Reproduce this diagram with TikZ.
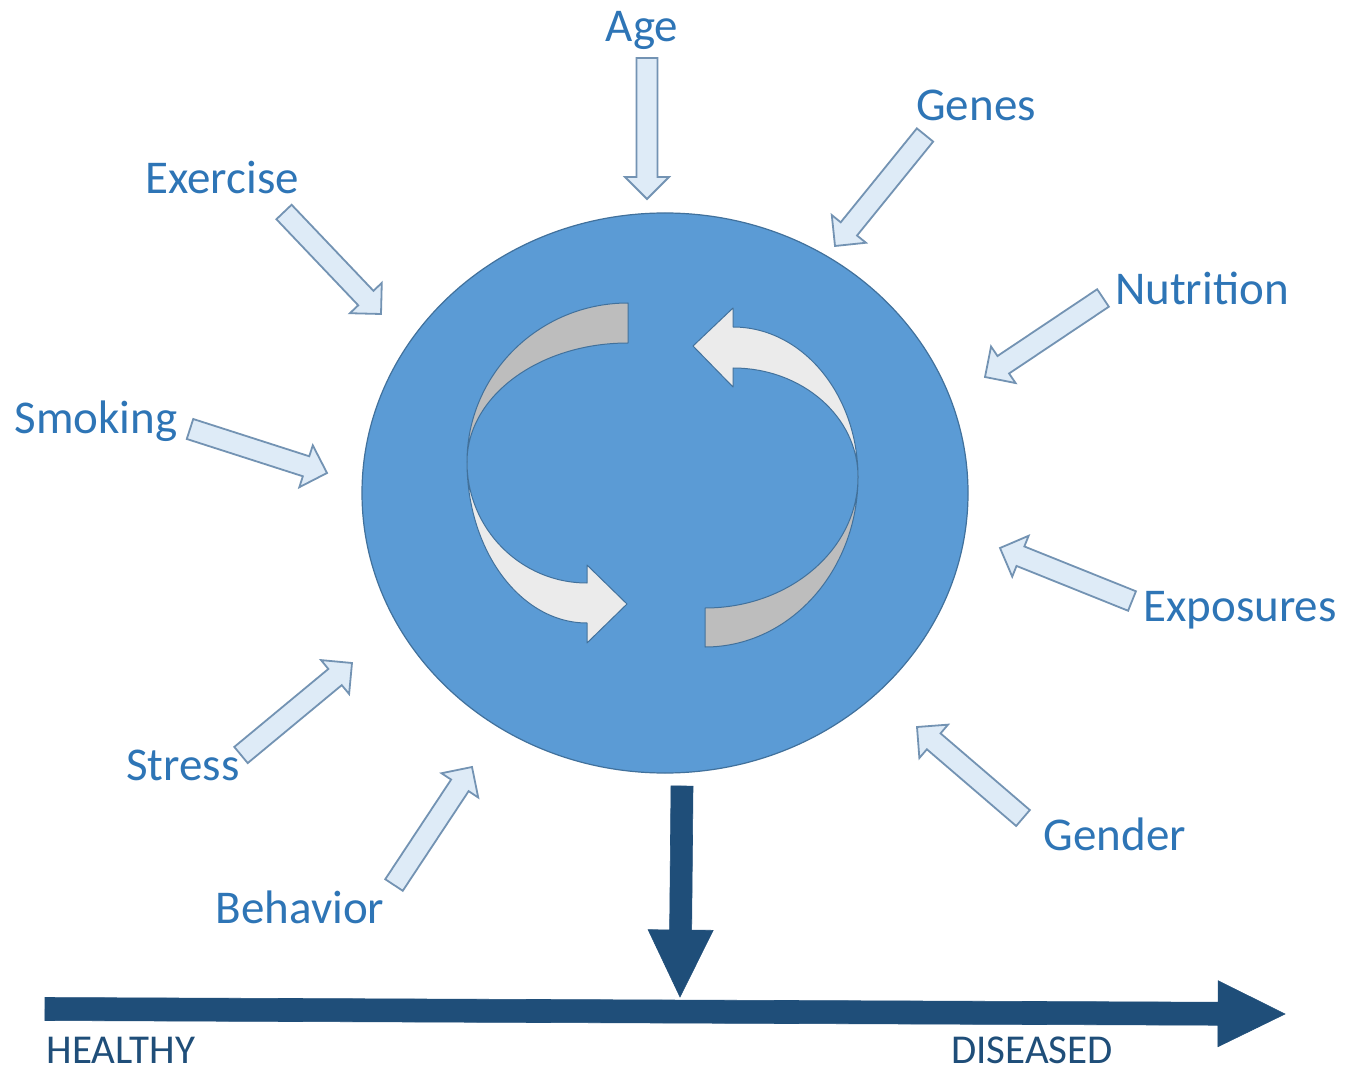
\documentclass[tikz,border=0pt]{standalone}
\usepackage{fontspec}
\setmainfont{Carlito}
\usetikzlibrary{calc}

\definecolor{discblue}{HTML}{5B9BD5}
\definecolor{discedge}{HTML}{41719C}
\definecolor{labelblue}{HTML}{2E75B6}
\definecolor{navy}{HTML}{1F4E79}
\definecolor{factorfill}{HTML}{DEEBF7}
\definecolor{factoredge}{HTML}{7393B3}
\definecolor{ribbongray}{HTML}{BDBDBD}
\definecolor{ribbonwhite}{HTML}{EBEBEB}

% block arrow: [style]{tail}{tip}{half shaft}{half head}{head length}
\newcommand{\blockarrow}[6][]{%
  \coordinate (hb) at ($(#3)!#6!(#2)$);
  \draw[#1] ($(#2)!#4!90:(#3)$) -- ($(hb)!#4!90:(#3)$) -- ($(hb)!#5!90:(#3)$) -- (#3)
    -- ($(hb)!#5!-90:(#3)$) -- ($(hb)!#4!-90:(#3)$) -- ($(#2)!#4!-90:(#3)$) -- cycle;
}

\tikzset{
  factor label/.style={text=labelblue, font=\fontsize{23.5}{28}\selectfont, anchor=base, inner sep=0pt},
  state label/.style={text=navy, font=\fontsize{20.5}{24}\selectfont, anchor=base, inner sep=0pt},
  factor arrow/.style={fill=factorfill, draw=factoredge, line width=0.9pt, line join=miter},
  navy arrow/.style={fill=navy, draw=navy, line width=0.3pt},
  ribbon/.style={draw=discedge, line width=0.5pt, line join=round},
}

\begin{document}
\begin{tikzpicture}[x=0.5pt,y=-0.5pt]
\useasboundingbox[fill=white] (0,0) rectangle (1358,1074);
% ---- disc ----
\draw[fill=discblue, draw=discedge, line width=0.6pt] (665,493) ellipse[x radius=303, y radius=280];
% ---- cycle ribbons ----
\draw[ribbon, fill=ribbongray] (628,303) arc[start angle=-90, end angle=-180, x radius=161, y radius=159]
  arc[start angle=180, end angle=270, x radius=161, y radius=119] -- cycle;
\draw[ribbon, fill=ribbonwhite] (467,462) arc[start angle=180, end angle=90, x radius=120, y radius=121]
  -- (587,565) -- (627,604) -- (587,643) -- (587,623)
  arc[start angle=90, end angle=180, x radius=120, y radius=161] -- cycle;
\draw[ribbon, fill=ribbonwhite] (858,477) arc[start angle=0, end angle=-90, x radius=125, y radius=150]
  -- (733,308) -- (693,346) -- (733,387) -- (733,368)
  arc[start angle=-90, end angle=0, x radius=125, y radius=109] -- cycle;
\draw[ribbon, fill=ribbongray] (858,477) arc[start angle=0, end angle=90, x radius=153, y radius=170]
  -- (705,608) arc[start angle=90, end angle=0, x radius=153, y radius=131] -- cycle;
% ---- factors ----
\node[factor label] (age) at (642,42) {Age};
\node[factor label] (genes) at (976,121) {Genes};
\node[factor label] (exercise) at (222,194) {Exercise};
\node[factor label] (nutrition) at (1202,305) {Nutrition};
\node[factor label] (smoking) at (96,434) {Smoking};
\node[factor label] (exposures) at (1240,621) {Exposures};
\node[factor label] (stress) at (183,780) {Stress};
\node[factor label] (gender) at (1115,850) {Gender};
\node[factor label] (behavior) at (300,923) {Behavior};
\coordinate (age-t) at (647,58);        \coordinate (age-h) at (647,199);
\coordinate (genes-t) at (925,135);     \coordinate (genes-h) at (835,246);
\coordinate (exercise-t) at (284,212);  \coordinate (exercise-h) at (381,314);
\coordinate (nutrition-t) at (1103,298);\coordinate (nutrition-h) at (985,377);
\coordinate (smoking-t) at (190,429);   \coordinate (smoking-h) at (327,473);
\coordinate (exposures-t) at (1132,601);\coordinate (exposures-h) at (1000,548);
\coordinate (stress-t) at (241,755);    \coordinate (stress-h) at (352,663);
\coordinate (gender-t) at (1023,818);   \coordinate (gender-h) at (917,727);
\coordinate (behavior-t) at (394,885);  \coordinate (behavior-h) at (472,767);
\blockarrow[factor arrow]{age-t}{age-h}{5.25pt}{11pt}{11pt}
\blockarrow[factor arrow]{genes-t}{genes-h}{5.25pt}{11pt}{11pt}
\blockarrow[factor arrow]{exercise-t}{exercise-h}{5.25pt}{11pt}{11pt}
\blockarrow[factor arrow]{nutrition-t}{nutrition-h}{5.25pt}{11pt}{11pt}
\blockarrow[factor arrow]{smoking-t}{smoking-h}{5.25pt}{11pt}{11pt}
\blockarrow[factor arrow]{exposures-t}{exposures-h}{5.25pt}{11pt}{11pt}
\blockarrow[factor arrow]{stress-t}{stress-h}{5.25pt}{11pt}{11pt}
\blockarrow[factor arrow]{gender-t}{gender-h}{5.25pt}{11pt}{11pt}
\blockarrow[factor arrow]{behavior-t}{behavior-h}{5.25pt}{11pt}{11pt}
% ---- outcome ----
\coordinate (down-t) at (682,786); \coordinate (down-h) at (680,997);
\blockarrow[navy arrow]{down-t}{down-h}{5.5pt}{16.25pt}{33.5pt}
\coordinate (line-t) at (45,1009); \coordinate (line-h) at (1285,1014);
\blockarrow[navy arrow]{line-t}{line-h}{5.75pt}{16.5pt}{33.5pt}
\node[state label] (healthy) at (121,1063) {HEALTHY};
\node[state label] (diseased) at (1032,1063) {DISEASED};
\end{tikzpicture}
\end{document}
